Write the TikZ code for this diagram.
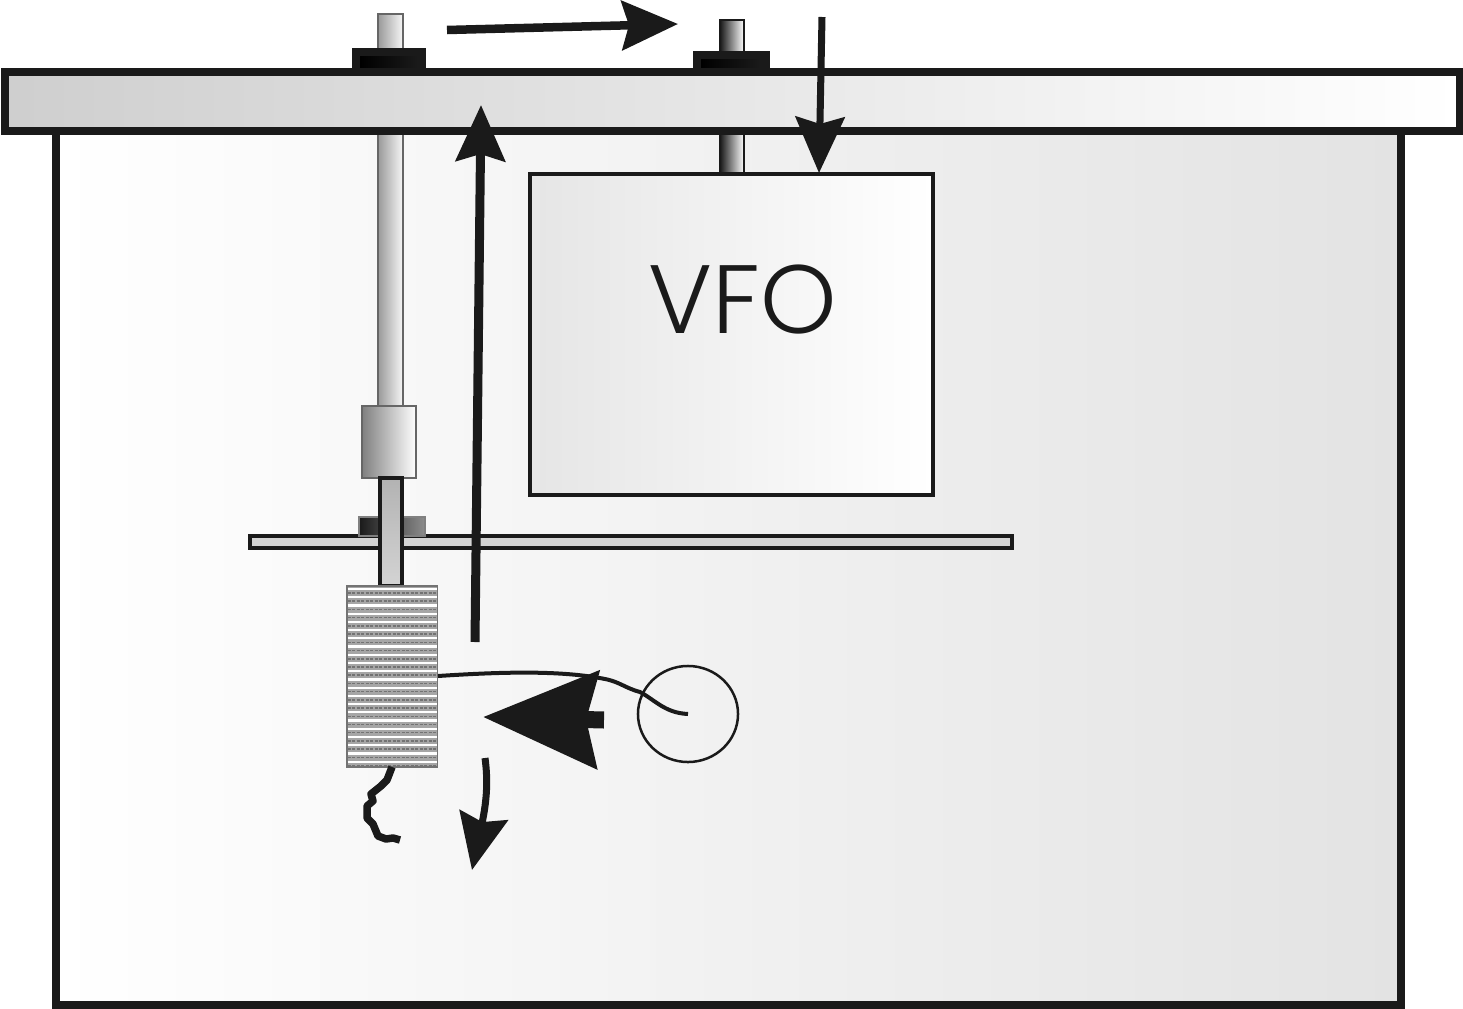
\documentclass[tikz,border=0pt]{standalone}
\usepackage{fontspec}
\newfontfamily\vfofont{Poppins Light}
\usetikzlibrary{arrows.meta, shapes.geometric}

\definecolor{ink}{HTML}{1A1A1A}

\tikzset{
    part/.style={inner sep=0pt, outer sep=0pt, anchor=north west},
    wall/.style={part, draw=ink, line width=.08cm},
    rod/.style={part, draw=#1, line width=.015cm},
    pointer/.style={draw=ink, line width=.085cm, -{Stealth[length=.56cm, width=.49cm, inset=.07cm]}},
}

\begin{document}
\begin{tikzpicture}[x=.01cm, y=-.01cm]
\useasboundingbox (0,0) rectangle (1463,1009);

\node[wall, left color=white, right color=black!11, minimum width=13.44cm, minimum height=8.73cm] (cabinet) at (56,131) {};

% front shafts
\node[rod=black!60, left color=black!40, right color=black!3, minimum width=.25cm, minimum height=3.93cm] (shaftl) at (378,14) {};
\node[rod=ink, line width=.025cm, left color=black!90, right color=white, minimum width=.24cm, minimum height=1.54cm] (shaftr) at (720,20) {};

\node[part, fill=ink, minimum width=.74cm, minimum height=.26cm] (nutl) at (352,48) {};
\node[part, fill=ink, minimum width=.77cm, minimum height=.23cm] (nutr) at (693,51) {};
\node[part, left color=black, right color=ink, minimum width=.58cm, minimum height=.12cm] at (360,56) {};
\node[part, left color=black, right color=ink, minimum width=.59cm, minimum height=.09cm] at (701,59) {};

\node[wall, left color=black!19, right color=white, minimum width=14.54cm, minimum height=.59cm] (panel) at (5,72) {};

\node[part, draw=ink, line width=.04cm, left color=black!10, right color=white, minimum width=4.03cm, minimum height=3.21cm] (vfo) at (530,174) {};
\node[font=\vfofont\fontsize{27.6}{30}\selectfont, text=ink] (vfotext) at (743,300) {VFO};

% shaft coupling and bracket
\node[rod=black!60, left color=black!50, right color=white, minimum width=.54cm, minimum height=.72cm] (coupler) at (362,406) {};
\node[part, draw=ink, line width=.04cm, fill=black!17, minimum width=7.62cm, minimum height=.12cm] (bracket) at (250,536) {};
\node[rod=black!50, left color=ink, right color=black!45, minimum width=.66cm, minimum height=.19cm] (bush) at (359,517) {};
\node[part, draw=ink, line width=.04cm, top color=black!30, bottom color=black!17, minimum width=.22cm, minimum height=1.08cm] (spindle) at (380,478) {};

% coil
\node[rod=black!55, fill=black!35, minimum width=.905cm, minimum height=1.81cm] (coil) at (347,586) {};
\foreach \i in {0,...,21} {
    \draw[white, line width=.022cm] (347.7,589+8.22*\i) -- (437.3,589+8.22*\i);
    \draw[black!55, line width=.015cm, dash pattern=on .03cm off .015cm] (347.7,593+8.22*\i) -- (437.3,593+8.22*\i);
}

\node[part, anchor=center, ellipse, draw=ink, line width=.025cm, minimum width=1cm, minimum height=.96cm] (ring) at (688,714) {};

\coordinate (wirein) at (438,676);
\coordinate (wireout) at (392,767);
\coordinate (wireend) at (400,840);
\coordinate (moved) at (447,30);
\coordinate (movedend) at (678,24);
\coordinate (back) at (475,642);
\coordinate (backend) at (481,105);
\coordinate (feed) at (822,17);
\coordinate (feedend) at (819,173);
\coordinate (curvea) at (485,758);
\coordinate (curveb) at (472,870);
\coordinate (lens) at (604,720);
\coordinate (lensend) at (483,717);

\draw[ink, line width=.04cm]
    (wirein) .. controls (500,672) and (560,670) .. (605,679)
    .. controls (620,682) and (625,688) .. (640,692)
    .. controls (655,700) and (665,713) .. (ring.center);
\draw[ink, line width=.075cm, line join=round]
    (wireout) -- (387,780) -- (381,786) -- (371,794) -- (373,801) -- (367,806) -- (367,818)
    -- (373,824) -- (378,836) -- (386,839) -- (393,838) -- (wireend);

\draw[pointer] (moved) -- (movedend);
\draw[pointer, line width=.09cm] (back) -- (backend);
\draw[pointer, line width=.07cm] (feed) -- (feedend);
\draw[pointer, line width=.07cm] (curvea) .. controls (488,780) and (487,800) .. (curveb);
\draw[draw=ink, line width=.17cm, -{Stealth[length=1.14cm, width=.96cm, inset=.11cm]}] (lens) -- (lensend);
\end{tikzpicture}
\end{document}
